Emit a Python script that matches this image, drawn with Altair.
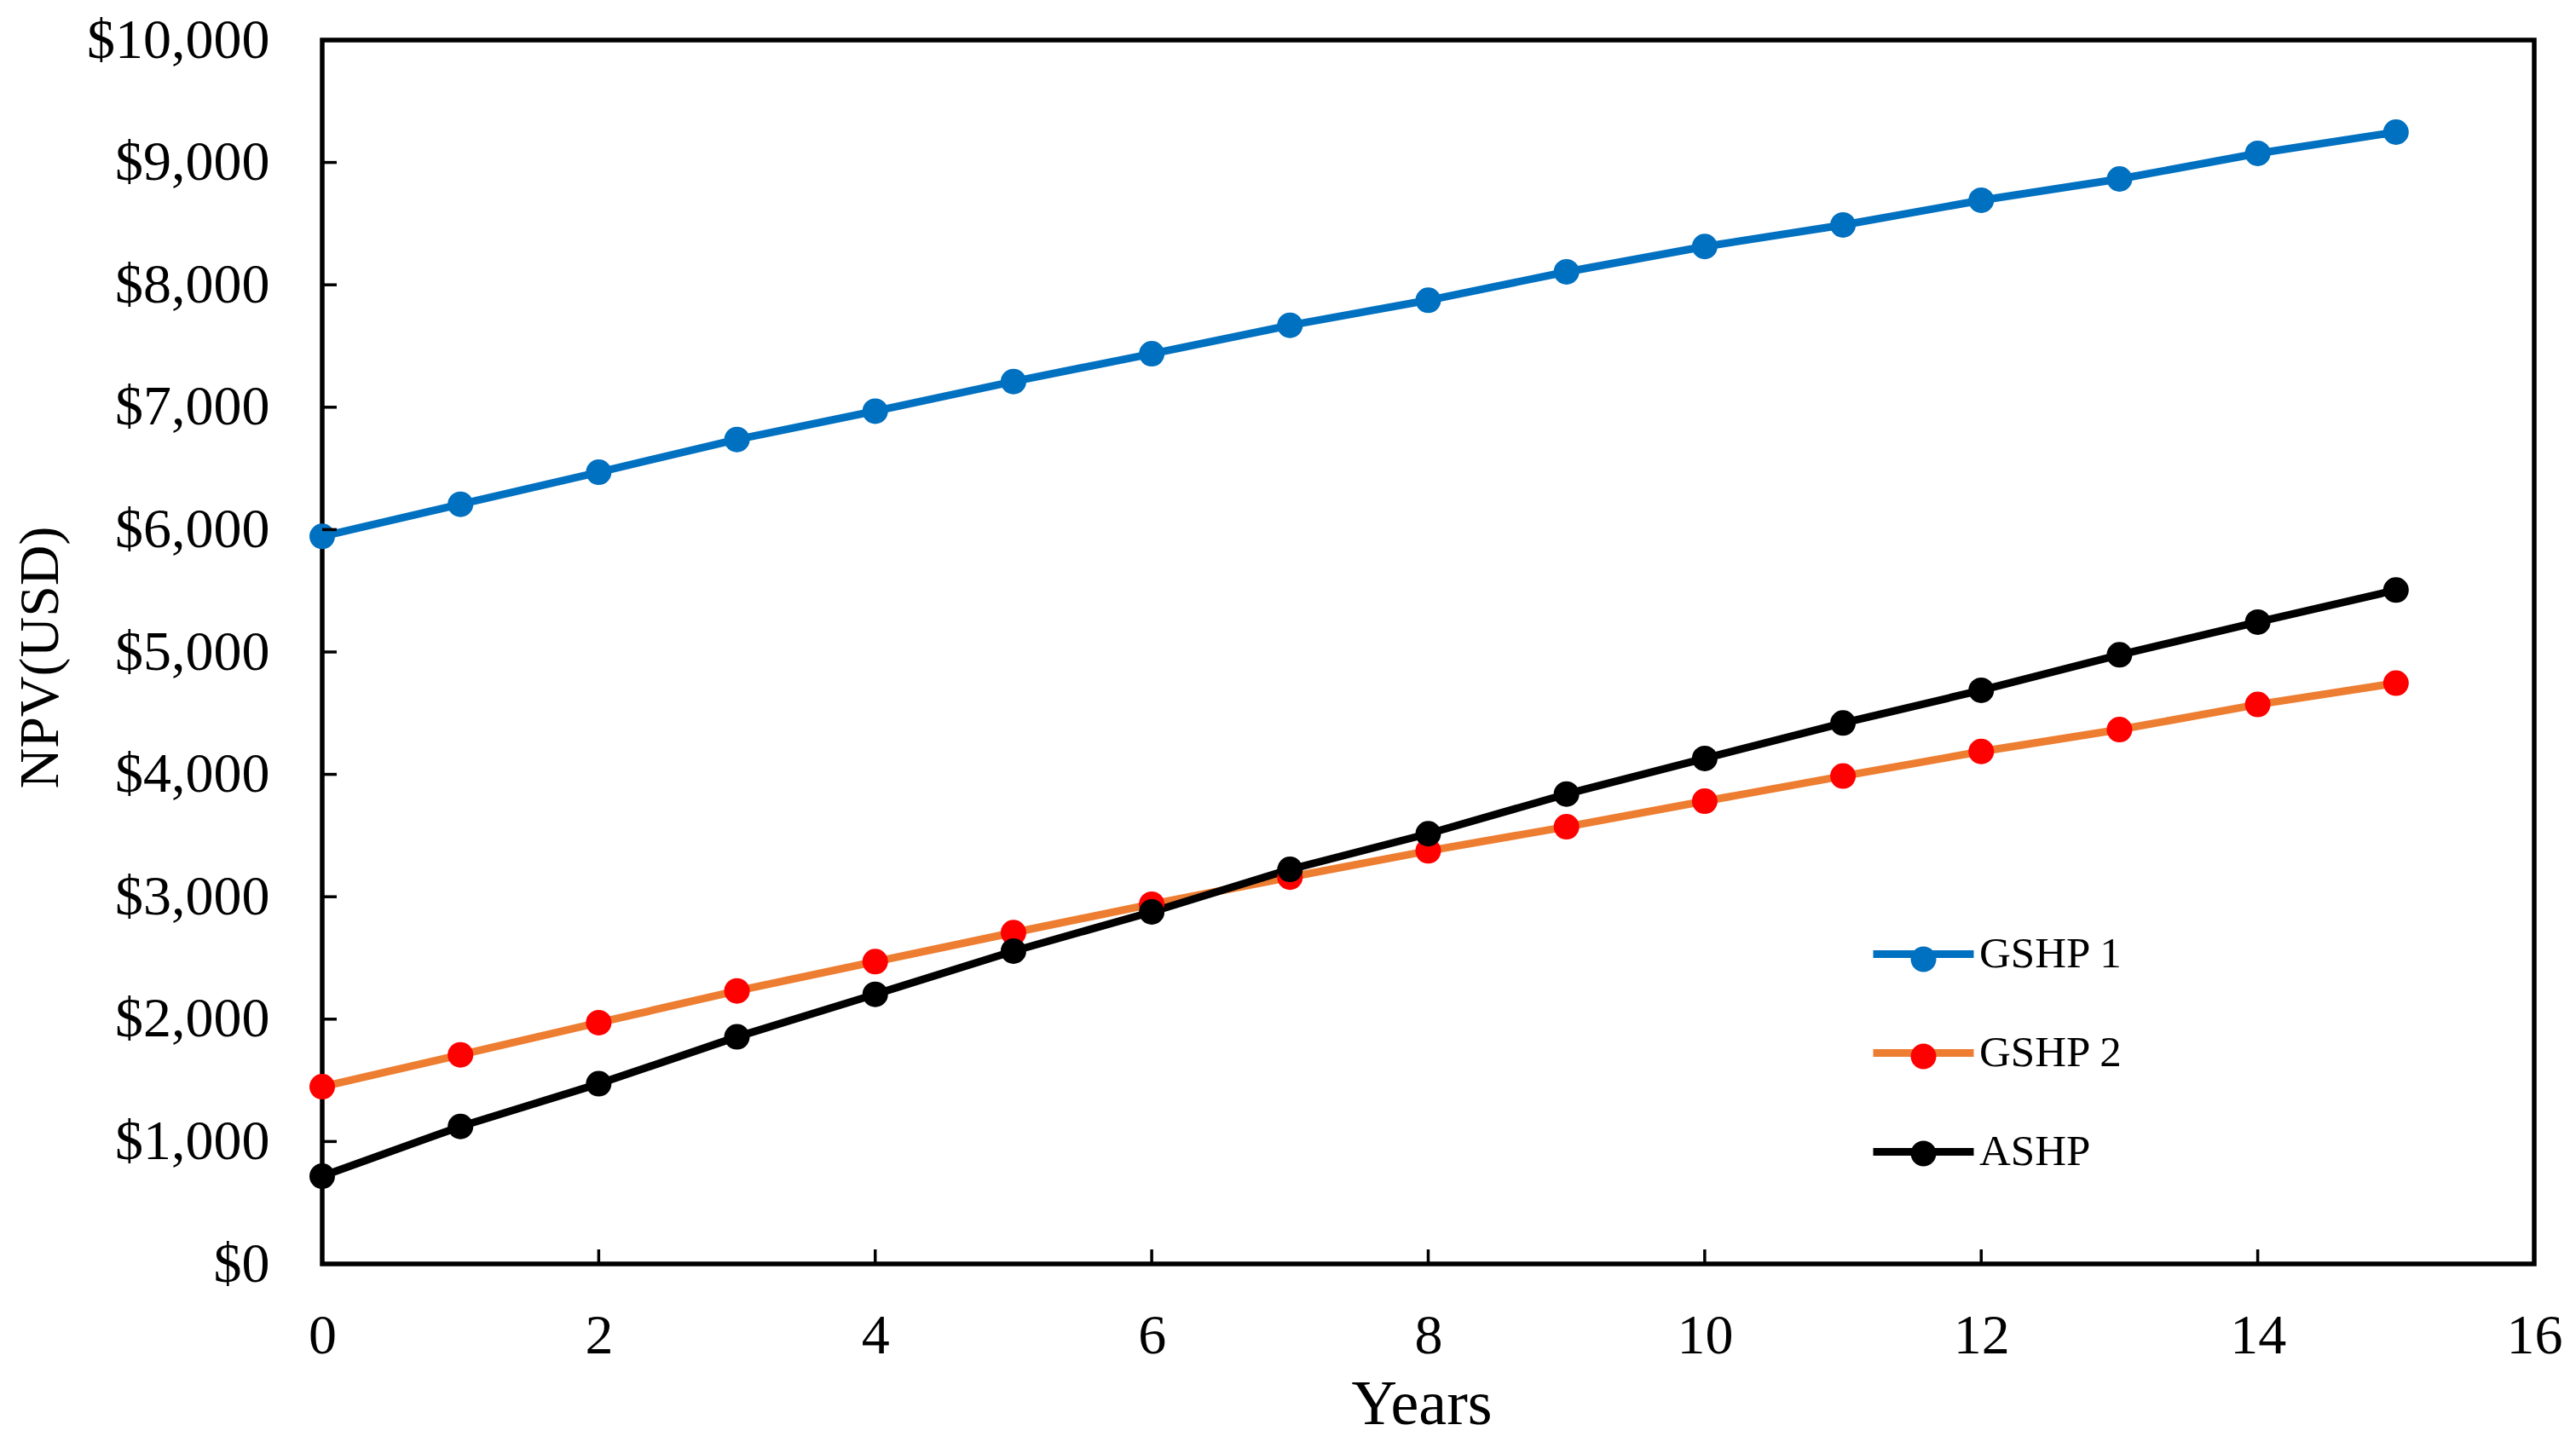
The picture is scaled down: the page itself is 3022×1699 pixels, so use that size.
import altair as alt
import pandas as pd

years = list(range(16))
series_names = ["GSHP 1", "GSHP 2", "ASHP"]
gshp1 = [5945, 6207, 6469, 6736, 6968, 7210, 7437, 7669, 7874, 8106, 8313, 8489, 8691, 8865, 9074, 9248]
gshp2 = [1448, 1708, 1971, 2231, 2470, 2707, 2939, 3160, 3375, 3572, 3781, 3986, 4187, 4366, 4571, 4745]
ashp = [717, 1123, 1472, 1855, 2203, 2556, 2876, 3224, 3515, 3839, 4130, 4420, 4687, 4977, 5244, 5506]
line_colors = ["#0070C0", "#ED7D31", "#000000"]
point_colors = ["#0070C0", "#FF0000", "#000000"]
x_ticks = [2, 4, 6, 8, 10, 12, 14]
y_ticks = [1000, 2000, 3000, 4000, 5000, 6000, 7000, 8000, 9000]

rows = []
for key, name, vals in zip(["a", "b", "c"], series_names, [gshp1, gshp2, ashp]):
    for yr, v in zip(years, vals):
        rows.append({"year": yr, "value": v, "series": name, "key": key})
df = pd.DataFrame(rows)

FONT = "Liberation Serif"
W, H = 2595, 1436

xscale = alt.Scale(domain=[0, 16], nice=False, zero=False)
yscale = alt.Scale(domain=[0, 10000], nice=False)

xaxis = alt.Axis(
    values=list(range(0, 17, 2)), format="d", title="Years", grid=False, domain=False, ticks=False,
    labelFont=FONT, labelFontSize=66, labelColor="black", labelPadding=52, labelBaseline="top",
    labelFlush=False, labelLimit=400, titleFont=FONT, titleFontSize=74, titleFontWeight="normal",
    titleColor="black", titleX=W / 2 - 8, titleY=187, titleBaseline="alphabetic", titleAlign="center",
    titleAngle=0,
)
yaxis = alt.Axis(
    values=list(range(0, 10001, 1000)), format="$,.0f", title="NPV(USD)", grid=False, domain=False,
    ticks=False, labelFont=FONT, labelFontSize=66, labelColor="black", labelPadding=62,
    labelBaseline="middle", labelFlush=False, labelLimit=400, titleFont=FONT, titleFontSize=66,
    titleFontWeight="normal", titleColor="black", titleX=-311, titleY=724,
    titleBaseline="alphabetic", titleAlign="center", titleAngle=270,
)

LSIZE = 118 * 118
circle_path = "M-0.254,0A0.254,0.254,0,1,0,0.254,0A0.254,0.254,0,1,0,-0.254,0Z"
label_map = "datum.label == 'a' ? 'GSHP 1' : datum.label == 'b' ? 'GSHP 2' : 'ASHP'"

line_legend = alt.Legend(
    title=None, orient="none", legendX=1815, legendY=1009, padding=0, rowPadding=27,
    symbolType="stroke", symbolSize=LSIZE, symbolStrokeWidth=9, labelFont=FONT,
    labelFontSize=51, labelColor="black", labelOffset=2, labelLimit=400,
)
point_legend = alt.Legend(
    title=None, orient="none", legendX=1815, legendY=1015, padding=0, rowPadding=17,
    symbolType=circle_path, symbolSize=LSIZE, symbolStrokeWidth=9, symbolStrokeColor="transparent",
    symbolOpacity=1, labelFont=FONT, labelFontSize=51, labelOpacity=0, labelOffset=2,
    labelLimit=400, labelExpr=label_map,
)

lines = alt.Chart(df).mark_line(strokeWidth=9, strokeJoin="round", strokeCap="round").encode(
    x=alt.X("year:Q", scale=xscale, axis=xaxis),
    y=alt.Y("value:Q", scale=yscale, axis=yaxis),
    stroke=alt.Stroke("series:N", scale=alt.Scale(domain=series_names, range=line_colors), legend=line_legend),
)

points = alt.Chart(df).mark_circle(size=900, opacity=1).encode(
    x=alt.X("year:Q", scale=xscale, axis=xaxis),
    y=alt.Y("value:Q", scale=yscale, axis=yaxis),
    fill=alt.Fill("key:N", scale=alt.Scale(range=point_colors), legend=point_legend),
)

xt = alt.Chart(pd.DataFrame({"t": x_ticks})).mark_rule(color="black", strokeWidth=3.5).encode(
    x=alt.X("t:Q", scale=xscale, axis=xaxis),
    y=alt.value(H),
    y2=alt.value(H - 17),
)
yt = alt.Chart(pd.DataFrame({"t": y_ticks})).mark_rule(color="black", strokeWidth=3.5).encode(
    y=alt.Y("t:Q", scale=yscale, axis=yaxis),
    x=alt.value(0),
    x2=alt.value(17),
)

chart = alt.layer(lines, points, xt, yt).properties(
    width=W, height=H,
    background="white",
    autosize=alt.AutoSizeParams(type="none"),
    padding={"left": 370, "top": 39, "right": 41, "bottom": 208},
).configure_view(stroke="black", strokeWidth=5.5)

chart.save("out.html", embed_options={"renderer": "svg", "actions": False})
